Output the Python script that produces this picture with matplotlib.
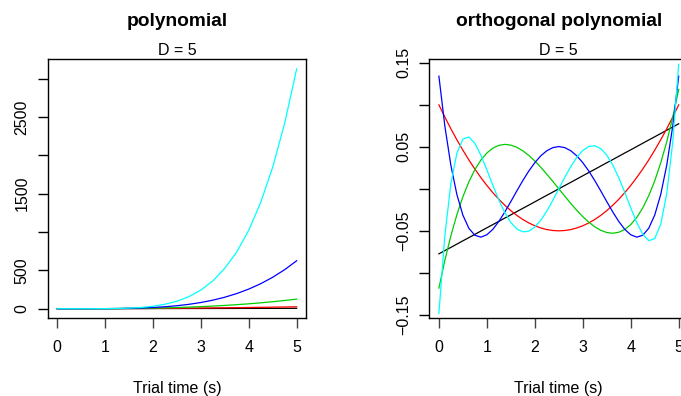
import matplotlib
matplotlib.use("Agg")
import matplotlib.pyplot as plt

plt.rcParams['font.family'] = ['Liberation Sans', 'DejaVu Sans']

# left panel: raw polynomial basis, sampled every 0.25 s
time_raw = [0, 0.25, 0.5, 0.75, 1, 1.25, 1.5, 1.75, 2, 2.25, 2.5,
            2.75, 3, 3.25, 3.5, 3.75, 4, 4.25, 4.5, 4.75, 5]
deg1 = [0, 0.25, 0.5, 0.75, 1, 1.25, 1.5, 1.75, 2, 2.25, 2.5,
        2.75, 3, 3.25, 3.5, 3.75, 4, 4.25, 4.5, 4.75, 5]
deg2 = [0, 0.0625, 0.25, 0.5625, 1, 1.5625, 2.25, 3.0625, 4, 5.0625, 6.25,
        7.5625, 9, 10.5625, 12.25, 14.0625, 16, 18.0625, 20.25, 22.5625, 25]
deg3 = [0, 0.0156, 0.125, 0.4219, 1, 1.9531, 3.375, 5.3594, 8, 11.39, 15.625,
        20.797, 27, 34.328, 42.875, 52.734, 64, 76.766, 91.125, 107.17, 125]
deg4 = [0, 0.0039, 0.0625, 0.3164, 1, 2.4414, 5.0625, 9.3789, 16, 25.629, 39.063,
        57.191, 81, 111.57, 150.06, 197.75, 256, 326.25, 410.06, 509.07, 625]
deg5 = [0, 0.001, 0.0156, 0.1187, 1, 3.0518, 7.5938, 16.413, 32, 57.665, 97.656,
        157.28, 243, 362.59, 527.73, 741.58, 1024, 1386.6, 1845.3, 2418.1, 3125]

# right panel: orthogonal polynomial basis, sampled every 0.125 s
time_orth = [0, 0.125, 0.25, 0.375, 0.5, 0.625, 0.75, 0.875, 1, 1.125, 1.25,
             1.375, 1.5, 1.625, 1.75, 1.875, 2, 2.125, 2.25, 2.375, 2.5,
             2.625, 2.75, 2.875, 3, 3.125, 3.25, 3.375, 3.5, 3.625, 3.75,
             3.875, 4, 4.125, 4.25, 4.375, 4.5, 4.625, 4.75, 4.875, 5]
orth1 = [-0.0774, -0.0735, -0.0697, -0.0658, -0.0619, -0.0581, -0.0542, -0.0503,
         -0.0464, -0.0426, -0.0387, -0.0348, -0.0310, -0.0271, -0.0232, -0.0194,
         -0.0155, -0.0116, -0.0077, -0.0039, 0.0,
         0.0039, 0.0077, 0.0116, 0.0155, 0.0194, 0.0232, 0.0271, 0.0310, 0.0348,
         0.0387, 0.0426, 0.0464, 0.0503, 0.0542, 0.0581, 0.0619, 0.0658, 0.0697,
         0.0735, 0.0774]
orth2 = [0.0999, 0.0853, 0.0714, 0.0583, 0.0460, 0.0343, 0.0235, 0.0134, 0.0040,
         -0.0046, -0.0125, -0.0196, -0.0260, -0.0316, -0.0365, -0.0406, -0.0440,
         -0.0466, -0.0485, -0.0496, -0.0500,
         -0.0496, -0.0485, -0.0466, -0.0440, -0.0406, -0.0365, -0.0316, -0.0260,
         -0.0196, -0.0125, -0.0046, 0.0040, 0.0134, 0.0235, 0.0343, 0.0460,
         0.0583, 0.0714, 0.0853, 0.0999]
orth3 = [-0.1182, -0.0849, -0.0559, -0.0308, -0.0095, 0.0083, 0.0228, 0.0341,
         0.0426, 0.0484, 0.0517, 0.0529, 0.0520, 0.0494, 0.0452, 0.0397, 0.0331,
         0.0256, 0.0174, 0.0088, 0.0,
         -0.0088, -0.0174, -0.0256, -0.0331, -0.0397, -0.0452, -0.0494, -0.0520,
         -0.0529, -0.0517, -0.0484, -0.0426, -0.0341, -0.0228, -0.0083, 0.0095,
         0.0308, 0.0559, 0.0849, 0.1182]
orth4 = [0.1341, 0.0743, 0.0279, -0.0068, -0.0313, -0.0470, -0.0553, -0.0575,
         -0.0547, -0.0482, -0.0388, -0.0275, -0.0152, -0.0025, 0.0098, 0.0212,
         0.0311, 0.0393, 0.0453, 0.0490, 0.0503,
         0.0490, 0.0453, 0.0393, 0.0311, 0.0212, 0.0098, -0.0025, -0.0152,
         -0.0275, -0.0388, -0.0482, -0.0547, -0.0575, -0.0553, -0.0470, -0.0313,
         -0.0068, 0.0279, 0.0743, 0.1341]
orth5 = [-0.1482, -0.0552, 0.0061, 0.0423, 0.0592, 0.0617, 0.0541, 0.0401,
         0.0226, 0.0042, -0.0133, -0.0284, -0.0401, -0.0478, -0.0512, -0.0504,
         -0.0456, -0.0374, -0.0265, -0.0137, 0.0,
         0.0137, 0.0265, 0.0374, 0.0456, 0.0504, 0.0512, 0.0478, 0.0401, 0.0284,
         0.0133, -0.0042, -0.0226, -0.0401, -0.0541, -0.0617, -0.0592, -0.0423,
         -0.0061, 0.0552, 0.1482]

line_colors = ['black', '#FF0000', '#00CD00', '#0000FF', '#00FFFF']
x_ticks = [0, 1, 2, 3, 4, 5]

raw_yticks = [0, 500, 1000, 1500, 2000, 2500, 3000]
raw_ylabels = ['0', '500', '', '1500', '', '2500', '']
orth_yticks = [-0.15, -0.10, -0.05, 0.0, 0.05, 0.10, 0.15]
orth_ylabels = ['\u22120.15', '', '\u22120.05', '', '0.05', '', '0.15']

fs = 11.5
fig = plt.figure(figsize=(6.81, 3.96), dpi=100)
ax1 = fig.add_axes([0.0700, 0.1962, 0.3797, 0.6540])
ax2 = fig.add_axes([0.6304, 0.1962, 0.3803, 0.6540])


def style_axis(ax, yticks, ylabels):
    for sp in ax.spines.values():
        sp.set_linewidth(1.0)
        sp.set_color('black')
    ax.set_xticks(x_ticks)
    ax.set_xticklabels([str(v) for v in x_ticks], fontsize=fs)
    ax.set_yticks(yticks)
    ax.set_yticklabels(ylabels, fontsize=fs, rotation=90, va='center')
    ax.tick_params(axis='x', direction='out', length=7.2, width=1.0, pad=8.5, color='#444444')
    ax.tick_params(axis='y', direction='out', length=7.2, width=1.0, pad=6.0, color='black')
    ax.set_xlabel('Trial time (s)', fontsize=fs, labelpad=0)


raw_series = [deg1, deg2, deg3, deg4, deg5]
for vals, col in zip(raw_series, line_colors):
    ax1.plot(time_raw, vals, color=col, lw=0.9)
ax1.set_xlim(-0.2, 5.2)
ax1.set_ylim(-125, 3250)
style_axis(ax1, raw_yticks, raw_ylabels)

orth_series = [orth1, orth2, orth3, orth4, orth5]
for vals, col in zip(orth_series, line_colors):
    ax2.plot(time_orth, vals, color=col, lw=0.9)
ax2.set_xlim(-0.2, 5.2)
ax2.set_ylim(-0.1541, 0.1541)
style_axis(ax2, orth_yticks, orth_ylabels)

# titles and subtitles placed like base R graphics
for ax, title in [(ax1, 'polynomial'), (ax2, 'orthogonal polynomial')]:
    pos = ax.get_position()
    cx = (pos.x0 + pos.x1) / 2
    fig.text(cx, 1 - 26 / 396, title, ha='center', va='baseline',
             fontsize=13.8, fontweight='bold')
    fig.text(cx, 1 - 55 / 396, 'D = 5', ha='center', va='baseline', fontsize=fs)
    ax.xaxis.set_label_coords(0.5, -(392.5 - 318.3) / (0.654 * 396))
    ax.xaxis.label.set_va('baseline')

fig.savefig('out.png', dpi=100)
